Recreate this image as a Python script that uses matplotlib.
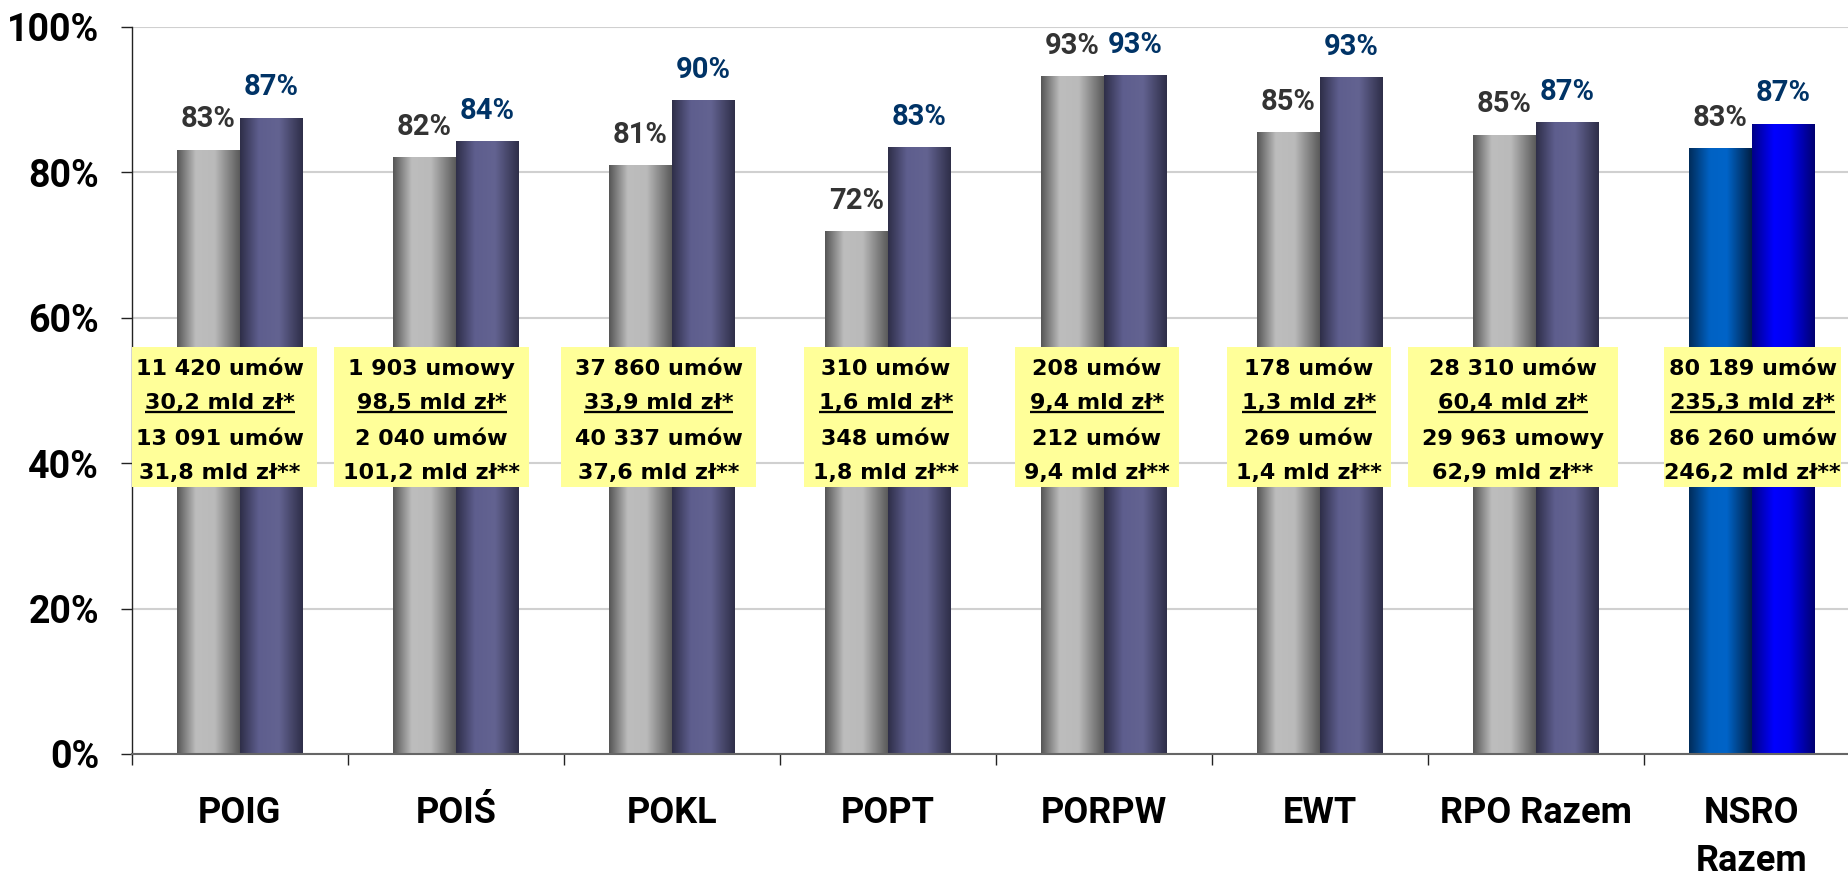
import matplotlib
matplotlib.use("Agg")
import matplotlib.pyplot as plt
import numpy as np
from matplotlib.colors import LinearSegmentedColormap
from matplotlib.patches import Rectangle

categories = ["POIG", "POIŚ", "POKL", "POPT", "PORPW", "EWT", "RPO Razem", "NSRO\nRazem"]
share_grey = [83.0, 82.0, 80.9, 71.8, 93.1, 85.4, 85.1, 83.2]
share_blue = [87.4, 84.2, 89.8, 83.4, 93.3, 93.0, 86.8, 86.6]

contracts_1 = ["11 420 umów", "1 903 umowy", "37 860 umów", "310 umów",
               "208 umów", "178 umów", "28 310 umów", "80 189 umów"]
amount_1 = ["30,2 mld zł*", "98,5 mld zł*", "33,9 mld zł*", "1,6 mld zł*",
            "9,4 mld zł*", "1,3 mld zł*", "60,4 mld zł*", "235,3 mld zł*"]
contracts_2 = ["13 091 umów", "2 040 umów", "40 337 umów", "348 umów",
               "212 umów", "269 umów", "29 963 umowy", "86 260 umów"]
amount_2 = ["31,8 mld zł**", "101,2 mld zł**", "37,6 mld zł**", "1,8 mld zł**",
            "9,4 mld zł**", "1,4 mld zł**", "62,9 mld zł**", "246,2 mld zł**"]

# layout (pixels of one category = 216)
cat_px = 216.0
box_dx_px = [-20, -24, -13, -2, -7, -11, -23, 1]
box_w_px = [194, 195, 195, 164, 164, 164, 210, 177]
bar_w = 62.5 / cat_px

cm_grey = LinearSegmentedColormap.from_list("g", [(0, "#555555"), (0.3, "#bdbdbd"), (0.6, "#bababa"), (1, "#5a5a5a")])
cm_blue = LinearSegmentedColormap.from_list("b", [(0, "#2e2e48"), (0.3, "#5e5e8e"), (0.62, "#636391"), (1, "#2e2e48")])
cm_tot1 = LinearSegmentedColormap.from_list("t1", [(0, "#002c5a"), (0.33, "#0062c4"), (0.6, "#0064c8"), (1, "#001f44")])
cm_tot2 = LinearSegmentedColormap.from_list("t2", [(0, "#000086"), (0.35, "#0000ff"), (0.6, "#0000f0"), (1, "#000070")])

fnt = "Roboto"
box_fnt = "DejaVu Sans"

fig = plt.figure(figsize=(18.49, 8.77), dpi=100)
ax = fig.add_axes([131.7 / 1849, 123 / 877, 1728 / 1849, 727.3 / 877])

grad = np.linspace(0, 1, 256).reshape(1, -1)
n = len(categories)
for i in range(n):
    c = i + 0.5
    last = (i == n - 1)
    ax.imshow(grad, cmap=cm_tot1 if last else cm_grey, extent=[c - bar_w, c, 0, share_grey[i]],
              aspect="auto", interpolation="bicubic", zorder=2)
    ax.imshow(grad, cmap=cm_tot2 if last else cm_blue, extent=[c, c + bar_w, 0, share_blue[i]],
              aspect="auto", interpolation="bicubic", zorder=2)
    ax.annotate("%.0f%%" % share_grey[i], (c - bar_w / 2, share_grey[i]), xytext=(0, 16.5),
                textcoords="offset points", ha="center", va="baseline", fontsize=21,
                fontweight="bold", family=fnt, color="#333333", zorder=6)
    ax.annotate("%.0f%%" % share_blue[i], (c + bar_w / 2, share_blue[i]), xytext=(0, 16.5),
                textcoords="offset points", ha="center", va="baseline", fontsize=21,
                fontweight="bold", family=fnt, color="#003366", zorder=6)

ax.set_xlim(0, n)
ax.set_ylim(0, 100)

# yellow boxes
under = []
for i in range(n):
    bc = i + 0.5 + box_dx_px[i] / cat_px
    bw = box_w_px[i] / cat_px
    ax.add_patch(Rectangle((bc - bw / 2, 36.65), bw, 56.0 - 36.65, facecolor="#ffff99",
                           edgecolor="none", zorder=3))
    lines = [contracts_1[i], amount_1[i], contracts_2[i], amount_2[i]]
    ys = [52.1, 47.45, 42.5, 37.75]
    for j, (txt, y) in enumerate(zip(lines, ys)):
        t = ax.text(bc, y, txt, ha="center", va="baseline", fontsize=16, fontweight="bold",
                    family=box_fnt, color="black", zorder=5)
        if j == 1:
            under.append(t)

# category labels
for i, name in enumerate(categories):
    for j, part in enumerate(name.split("\n")):
        ax.text(i + 0.5, -9.47 - j * 6.6, part, ha="center", va="baseline", fontsize=26,
                fontweight="bold", family=fnt, color="black", clip_on=False)

ax.set_yticks(range(0, 101, 20))
ax.set_yticklabels(["%d%%" % v for v in range(0, 101, 20)], fontsize=27, fontweight="bold", family=fnt)
ax.set_xticks(np.arange(0, n + 1))
ax.set_xticklabels([])
ax.tick_params(axis="y", length=7.9, width=1.0, pad=15.5, color="#222222")
ax.tick_params(axis="x", length=7.9, width=1.0, color="#222222")
ax.yaxis.grid(True, color="#d0d0d0", lw=1.5, zorder=0.5)
ax.set_axisbelow(True)
for s in ["top", "right"]:
    ax.spines[s].set_visible(False)
ax.spines["left"].set_color("#222222")
ax.spines["left"].set_linewidth(1.0)
ax.spines["bottom"].set_color("#666666")
ax.spines["bottom"].set_linewidth(1.5)

# underline second line of each box
fig.canvas.draw()
r = fig.canvas.get_renderer()
inv = ax.transData.inverted()
for t in under:
    bb = t.get_window_extent(r)
    x0 = inv.transform((bb.x0, 0))[0]
    x1 = inv.transform((bb.x1, 0))[0]
    ax.plot([x0, x1], [47.05, 47.05], color="black", lw=1.65, solid_capstyle="butt", zorder=5)

fig.savefig("out.png", dpi=100)
